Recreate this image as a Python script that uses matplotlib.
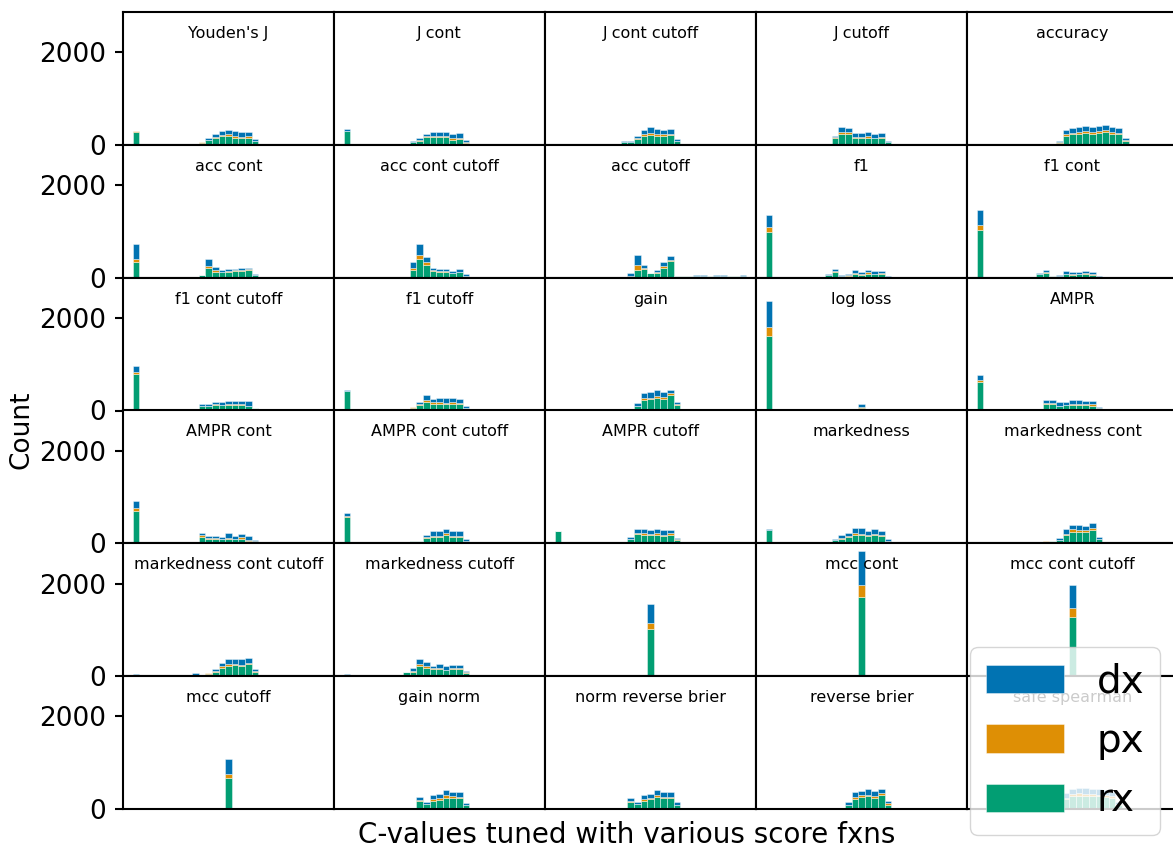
import numpy as np
import matplotlib
matplotlib.use("Agg")
from matplotlib import pyplot as plt

titles = ["Youden's J", "J cont", "J cont cutoff", "J cutoff", "accuracy",
          "acc cont", "acc cont cutoff", "acc cutoff", "f1", "f1 cont",
          "f1 cont cutoff", "f1 cutoff", "gain", "log loss", "AMPR",
          "AMPR cont", "AMPR cont cutoff", "AMPR cutoff", "markedness", "markedness cont",
          "markedness cont cutoff", "markedness cutoff", "mcc", "mcc cont", "mcc cont cutoff",
          "mcc cutoff", "gain norm", "norm reverse brier", "reverse brier", "safe spearman"]

n_bins = 29
r10 = list(range(10, 19))

# bin index of each bar, per panel
bins = [
    [0] + r10, [0] + r10, r10, r10, list(range(12, 23)),
    [0] + r10, r10, list(range(11, 29)), [0] + list(range(9, 19)), [0] + list(range(9, 19)),
    [0] + r10, [0] + r10, list(range(12, 19)) + [20], [0, 12, 14, 16], [0] + list(range(9, 19)),
    [0] + r10, [0] + r10, [0] + r10, [0] + r10, r10 + [22],
    [0] + list(range(9, 19)), [0] + list(range(9, 19)), [14], [0, 14], [14],
    [14], list(range(11, 19)), list(range(11, 19)), list(range(12, 19)), list(range(13, 22)),
]

rx = [
    [280, 45, 100, 143, 186, 200, 157, 143, 157, 72],
    [300, 60, 93, 179, 172, 172, 172, 115, 129, 43],
    [57, 57, 129, 200, 215, 200, 186, 215, 86],
    [143, 229, 229, 143, 143, 157, 143, 157, 57],
    [45, 200, 230, 240, 250, 235, 250, 270, 240, 225, 90],
    [330, 50, 200, 129, 115, 129, 143, 143, 172, 57],
    [172, 394, 279, 143, 129, 129, 100, 115, 43],
    [10, 172, 194, 108, 100, 215, 358, 30, 30, 30, 35, 35, 30, 35, 35, 30, 30, 35],
    [989, 57, 115, 36, 43, 79, 57, 86, 72, 86, 0],
    [1032, 86, 100, 29, 43, 72, 57, 72, 86, 57, 0],
    [796, 93, 93, 122, 108, 122, 108, 122, 93, 50],
    [430, 57, 108, 179, 150, 150, 136, 136, 136, 57],
    [93, 222, 251, 280, 251, 337, 122, 0],
    [1598, 0, 57, 0],
    [609, 0, 143, 143, 93, 108, 122, 108, 108, 93, 43],
    [703, 143, 86, 86, 86, 86, 86, 100, 57, 36],
    [559, 43, 43, 108, 143, 129, 172, 129, 129, 50],
    [258, 21, 86, 200, 186, 172, 186, 151, 186, 79],
    [280, 72, 100, 129, 186, 172, 158, 172, 158, 50],
    [29, 43, 72, 172, 244, 244, 244, 287, 86, 0],
    [14, 29, 14, 50, 100, 186, 215, 244, 215, 258, 100],
    [14, 86, 100, 229, 186, 158, 158, 129, 158, 158, 72],
    [1011],
    [0, 1713],
    [1283],
    [674],
    [165, 108, 179, 194, 237, 237, 237, 79],
    [158, 108, 179, 208, 251, 237, 237, 79],
    [79, 215, 265, 272, 237, 308, 93],
    [215, 275, 290, 280, 275, 270, 260, 240, 95],
]

px = [
    [15, 15, 15, 29, 29, 29, 43, 29, 29, 7],
    [0, 0, 21, 21, 29, 29, 29, 29, 29, 14],
    [14, 14, 29, 43, 43, 43, 43, 29, 7],
    [29, 57, 43, 29, 29, 43, 14, 14, 0],
    [7, 30, 35, 40, 40, 40, 40, 45, 40, 35, 14],
    [72, 0, 43, 29, 14, 14, 14, 21, 21, 8],
    [29, 86, 57, 21, 14, 14, 7, 7, 0],
    [30, 100, 21, 0, 21, 29, 29, 5, 0, 0, 5, 5, 0, 5, 5, 5, 0, 5],
    [100, 0, 29, 0, 14, 21, 29, 29, 14, 14, 0],
    [115, 0, 14, 0, 0, 14, 29, 14, 14, 14, 0],
    [43, 14, 14, 14, 14, 14, 29, 14, 14, 0],
    [0, 14, 29, 43, 29, 29, 29, 43, 29, 7],
    [14, 43, 29, 43, 43, 36, 14, 0],
    [208, 0, 29, 0],
    [43, 0, 21, 21, 14, 14, 29, 29, 29, 43, 7],
    [57, 29, 29, 29, 14, 29, 14, 29, 14, 7],
    [29, 0, 0, 21, 14, 29, 43, 29, 29, 7],
    [0, 0, 14, 29, 29, 29, 29, 21, 29, 7],
    [7, 0, 14, 29, 43, 29, 29, 29, 29, 7],
    [14, 0, 0, 29, 57, 43, 43, 43, 14, 0],
    [14, 0, 0, 14, 14, 29, 43, 29, 29, 29, 21],
    [14, 0, 14, 43, 29, 29, 29, 14, 14, 14, 14],
    [143],
    [14, 251],
    [194],
    [79],
    [29, 0, 29, 43, 57, 43, 29, 14],
    [21, 0, 29, 29, 43, 29, 29, 14],
    [14, 36, 43, 36, 50, 29, 29],
    [30, 40, 45, 40, 40, 40, 35, 35, 15],
]

dx = [
    [5, 10, 43, 57, 86, 93, 100, 100, 100, 43],
    [36, 12, 43, 36, 86, 86, 86, 100, 107, 43],
    [14, 14, 43, 79, 122, 100, 86, 100, 43],
    [29, 100, 100, 86, 86, 86, 72, 93, 36],
    [20, 90, 100, 110, 110, 105, 110, 115, 100, 95, 36],
    [315, 0, 158, 72, 43, 43, 29, 43, 21, 14],
    [129, 250, 107, 43, 43, 43, 29, 64, 29],
    [50, 215, 57, 0, 50, 100, 79, 8, 10, 10, 12, 12, 10, 12, 12, 10, 10, 15],
    [258, 21, 43, 14, 29, 57, 36, 43, 57, 43, 36],
    [323, 14, 43, 14, 21, 57, 29, 43, 43, 43, 43],
    [115, 29, 43, 57, 57, 65, 65, 65, 93, 14],
    [14, 14, 57, 122, 72, 100, 100, 86, 86, 36],
    [57, 115, 129, 122, 108, 79, 57, 21],
    [559, 21, 57, 43],
    [108, 21, 72, 72, 72, 72, 79, 79, 65, 65, 29],
    [158, 50, 43, 43, 43, 108, 65, 72, 86, 36],
    [65, 14, 14, 57, 100, 100, 86, 115, 100, 43],
    [14, 14, 43, 72, 93, 93, 93, 115, 79, 29],
    [29, 14, 57, 72, 108, 122, 72, 115, 86, 43],
    [0, 14, 36, 100, 100, 115, 93, 115, 29, 21],
    [29, 29, 14, 14, 43, 72, 108, 108, 122, 108, 36],
    [22, 0, 72, 100, 100, 43, 86, 86, 79, 79, 36],
    [394],
    [0, 738],
    [487],
    [323],
    [57, 50, 100, 86, 122, 93, 93, 43],
    [57, 43, 93, 93, 122, 108, 93, 50],
    [50, 108, 86, 122, 108, 86, 57],
    [95, 120, 125, 125, 120, 115, 110, 100, 40],
]

colors = {"dx": "#0173b2", "px": "#de8f05", "rx": "#029e73"}

fig, axes = plt.subplots(6, 5, figsize=(11.73, 8.48), dpi=100, sharex=True, sharey=True)
fig.subplots_adjust(left=123 / 1173, right=1178 / 1173, top=1 - 12 / 848, bottom=1 - 809 / 848,
                    wspace=0, hspace=0)

handles = {}
for i, ax in enumerate(axes.flat):
    b = np.array(bins[i])
    r = np.array(rx[i])
    p = np.array(px[i])
    d = np.array(dx[i])
    kw = dict(width=1, align="edge", edgecolor=(1, 1, 1, 0.6), linewidth=0.5)
    handles["rx"] = ax.bar(b, r, color=colors["rx"], **kw)
    handles["px"] = ax.bar(b, p, bottom=r, color=colors["px"], **kw)
    handles["dx"] = ax.bar(b, d, bottom=r + p, color=colors["dx"], **kw)
    ax.text(0.5, 0.805, titles[i], transform=ax.transAxes, ha="center", va="baseline",
            fontsize=11.5)
    for s in ax.spines.values():
        s.set_linewidth(1.5)
    ax.tick_params(axis="x", bottom=False, labelbottom=False)
    if i % 5 == 0:
        ax.tick_params(axis="y", labelsize=19, width=1.5, length=6, pad=6)
    else:
        ax.tick_params(axis="y", left=False)

axes[0, 0].set_xlim(-0.05 * n_bins, 1.05 * n_bins)
axes[0, 0].set_ylim(0, 2867)
axes[0, 0].set_yticks([0, 2000])

fig.text(627 / 1173, 1 - 835 / 848, "C-values tuned with various score fxns",
         ha="center", va="center", fontsize=20)
fig.text(22 / 1173, 1 - 430 / 848, "Count", rotation=90, ha="center", va="center", fontsize=19)

fig.legend([handles["dx"], handles["px"], handles["rx"]], ["dx", "px", "rx"],
           loc="lower right", bbox_to_anchor=(1160 / 1173, 1 - 835 / 848),
           fontsize=28, handlelength=2.0, handleheight=0.75, handletextpad=0.85,
           labelspacing=0.55, borderaxespad=0)

fig.savefig("out.png", dpi=100)
